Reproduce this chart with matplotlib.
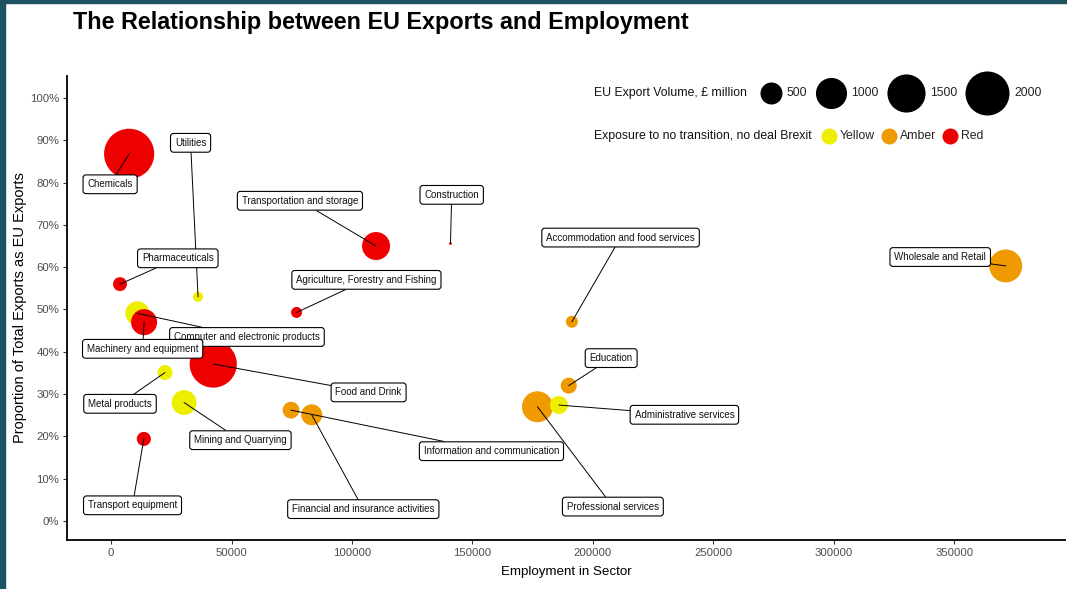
import matplotlib
matplotlib.use("Agg")
import matplotlib.pyplot as plt
from matplotlib.patches import Rectangle
from matplotlib.ticker import FuncFormatter

plt.rcParams["font.family"] = ["Liberation Sans", "DejaVu Sans"]

W, H, DPI = 1067, 589, 100

# ------------------------------------------------------------------
# data
# ------------------------------------------------------------------
sectors = [
  "Chemicals", "Utilities", "Pharmaceuticals",
  "Agriculture, Forestry and Fishing", "Computer and electronic products",
  "Machinery and equipment", "Food and Drink", "Metal products",
  "Mining and Quarrying", "Transport equipment",
  "Information and communication", "Financial and insurance activities",
  "Transportation and storage", "Construction",
  "Accommodation and food services", "Education",
  "Professional services", "Administrative services",
  "Wholesale and Retail",
]
employment = [7500, 36100, 3700, 77000, 10900, 13700, 42400, 22400, 30300,
              13600, 74700, 83300, 110000, 140900, 191300, 190000, 177000,
              185900, 371400]
eu_share = [0.868, 0.530, 0.560, 0.493, 0.491, 0.470, 0.371, 0.351, 0.280,
            0.194, 0.262, 0.251, 0.650, 0.656, 0.471, 0.320, 0.270, 0.274,
            0.603]
export_volume = [2600, 105, 200, 125, 595, 700, 2300, 230, 640, 205, 290,
                 455, 810, 8, 150, 265, 990, 335, 1120]
exposure = ["Red", "Yellow", "Red", "Red", "Yellow", "Red", "Red", "Yellow",
            "Yellow", "Red", "Amber", "Amber", "Red", "Red", "Amber", "Amber",
            "Amber", "Yellow", "Amber"]

# where the repelled labels ended up
label_x = [-400, 33000, 27700, 106000, 56400, 13100, 106900, 3700, 53700,
           8900, 157900, 104700, 78400, 141400, 211500, 207600, 208300,
           238000, 344200]
label_y = [0.796, 0.894, 0.621, 0.570, 0.435, 0.407, 0.304, 0.277, 0.191,
           0.037, 0.165, 0.028, 0.757, 0.771, 0.670, 0.385, 0.034, 0.251,
           0.624]

legend_volumes = [500, 1000, 1500, 2000]
exposure_levels = ["Yellow", "Amber", "Red"]

COLORS = {"Yellow": "#EEEE00", "Amber": "#EE9A00", "Red": "#EE0000"}
SIZE_K = 0.502        # points^2 per GBP million
BORDER = "#1d5361"


def size_of(v):
  return v * SIZE_K


fig = plt.figure(figsize=(W / DPI, H / DPI), dpi=DPI, facecolor="white")
ax = fig.add_axes([67 / W, (H - 540) / H, (1065 - 67) / W, (540 - 76) / H])

ax.scatter(employment, eu_share, s=[size_of(v) for v in export_volume],
           c=[COLORS[e] for e in exposure], linewidths=0, zorder=1)

for name, px, py, lx, ly in zip(sectors, employment, eu_share,
                                label_x, label_y):
  ax.annotate(name, xy=(px, py), xytext=(lx, ly), textcoords="data",
              ha="center", va="center", fontsize=7, color="#111111",
              bbox=dict(boxstyle="round,pad=0.45,rounding_size=0.3",
                        fc="white", ec="black", lw=0.8),
              arrowprops=dict(arrowstyle="-", color="black", lw=0.7,
                              shrinkA=0, shrinkB=0),
              zorder=3)

ax.set_xlim(-18300, 396000)
ax.set_ylim(-0.045, 1.052)
ax.set_xticks(range(0, 350001, 50000))
ax.set_yticks([i / 10 for i in range(11)])
ax.xaxis.set_major_formatter(FuncFormatter(lambda v, _: f"{int(v)}"))
ax.yaxis.set_major_formatter(FuncFormatter(lambda v, _: f"{v * 100:.0f}%"))

for side in ("top", "right"):
  ax.spines[side].set_visible(False)
for side in ("left", "bottom"):
  ax.spines[side].set_linewidth(1.3)
  ax.spines[side].set_color("black")
ax.tick_params(length=3, width=0.8, color="#333333", labelcolor="#4d4d4d",
               labelsize=8.2, pad=2.5)

ax.set_xlabel("Employment in Sector", fontsize=9.6, labelpad=6)
ax.set_ylabel("Proportion of Total Exports as EU Exports", fontsize=10.5,
              labelpad=2.5)

fig.text(73 / W, 1 - 23 / H, "The Relationship between EU Exports and Employment",
         fontsize=16.8, fontweight="bold", ha="left", va="center")

# ------------------------------------------------------------------
# legends, laid out in pixel space on an overlay
# ------------------------------------------------------------------
lg = fig.add_axes([0, 0, 1, 1], zorder=5)
lg.set_xlim(0, W)
lg.set_ylim(H, 0)
lg.axis("off")

fig.canvas.draw()
rend = fig.canvas.get_renderer()


def key_row(title, items, y, x0, title_gap, key_gap, text_gap):
  t = lg.text(x0, y, title, fontsize=8.8, ha="left", va="center",
              color="#111111")
  x = x0 + t.get_window_extent(rend).width + title_gap
  for label, d, color in items:
    lg.scatter([x + d / 2], [y], s=(d * 0.72) ** 2, color=color,
               linewidths=0, clip_on=False)
    tt = lg.text(x + d + key_gap, y, label, fontsize=8.8, ha="left",
                 va="center", color="#222222")
    x = x + d + key_gap + tt.get_window_extent(rend).width + text_gap


vol_items = [(str(v), size_of(v) ** 0.5 / 0.72, "black")
             for v in legend_volumes]
key_row("EU Export Volume, \u00a3 million", vol_items, 93, 594, 13, 5, 8)

col_items = [(lvl, 16, COLORS[lvl]) for lvl in exposure_levels]
key_row("Exposure to no transition, no deal Brexit", col_items, 136, 594,
        9, 3, 6)

# dark frame on the left and top edges
fig.patches.append(Rectangle((0, 0), 5 / W, 1, transform=fig.transFigure,
                             color=BORDER, zorder=10))
fig.patches.append(Rectangle((0, 1 - 2.5 / H), 1, 2.5 / H,
                             transform=fig.transFigure, color=BORDER,
                             zorder=10))

fig.savefig("out.png", dpi=DPI, facecolor="white")
